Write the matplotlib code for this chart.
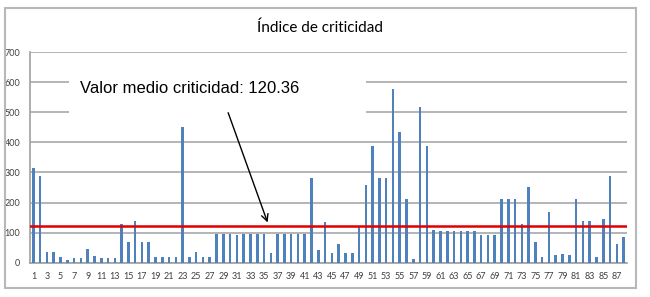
import matplotlib
matplotlib.use("Agg")
import matplotlib.pyplot as plt
from matplotlib.patches import Rectangle
from matplotlib import font_manager

categories = list(range(1, 89))
values = [313, 288, 34, 34, 19, 9, 17, 17, 44, 23,
          17, 17, 17, 130, 70, 138, 70, 70, 18, 18,
          18, 18, 450, 18, 34, 18, 18, 94, 94, 96,
          91, 94, 94, 96, 96, 31, 94, 94, 94, 96,
          96, 283, 41, 135, 31, 63, 31, 31, 117, 259,
          388, 283, 283, 577, 433, 210, 12, 517, 388, 109,
          105, 105, 105, 105, 105, 105, 93, 93, 93, 210,
          210, 210, 128, 252, 68, 18, 168, 25, 29, 24,
          210, 138, 138, 18, 145, 289, 62, 85]
mean_value = 120.36
title = "Índice de criticidad"
annotation = "Valor medio criticidad: 120.36"
yticks = [0, 100, 200, 300, 400, 500, 600, 700]
xtick_pos = list(range(1, 89, 2))

names = {f.name for f in font_manager.fontManager.ttflist}
narrow = "Liberation Sans Narrow" if "Liberation Sans Narrow" in names else "Lato"

W, H = 650, 297
fig = plt.figure(figsize=(W / 100, H / 100), dpi=100)
fig.patch.set_facecolor("white")

# chart border
fig.add_artist(Rectangle((5 / W, 1 - 288 / H), (636 - 5) / W, (288 - 8) / H,
                         transform=fig.transFigure, fill=False,
                         edgecolor="#b8b8b8", linewidth=1.5))

left, right, bottom, top = 30, 627, 262.7, 52
ax = fig.add_axes([left / W, 1 - bottom / H, (right - left) / W, (bottom - top) / H])

ax.bar(categories, values, width=0.38, color="#4F81BD", zorder=3)
ax.set_xlim(0.5, 88.5)
ax.set_ylim(0, 700)
ax.set_yticks(yticks)
ax.set_xticks(xtick_pos)
ax.set_xticklabels([str(v) for v in xtick_pos])
ax.yaxis.grid(True, color="#b4b4b4", linewidth=1.4, zorder=0)
ax.set_axisbelow(True)
for s in ["top", "right"]:
    ax.spines[s].set_visible(False)
ax.spines["left"].set_color("#a0a0a0")
ax.spines["bottom"].set_color("#a0a0a0")
ax.spines["left"].set_linewidth(1.2)
ax.spines["bottom"].set_linewidth(1.2)
ax.tick_params(axis="both", length=0, labelsize=6.5, colors="#404040")
ax.tick_params(axis="x", pad=7)
ax.tick_params(axis="y", pad=7)
for lab in ax.get_xticklabels() + ax.get_yticklabels():
    lab.set_fontfamily(narrow)

ax.axhline(mean_value, color="#e00000", linewidth=1.8, zorder=4)

# white text box
ax.add_patch(Rectangle((0.065, 0.654), 0.498, 0.31, transform=ax.transAxes,
                       facecolor="white", edgecolor="none", zorder=2))
ax.text(0.084, 0.829, annotation, transform=ax.transAxes, ha="left", va="center",
        fontsize=12, family="Liberation Sans", color="black", zorder=5)
ax.annotate("", xy=(35.66, 125), xytext=(29.57, 507),
            arrowprops=dict(arrowstyle="->", color="black", lw=1.0,
                            mutation_scale=12), zorder=5)

fig.text(320 / W, 1 - 28 / H, title, ha="center", va="center",
         fontsize=11, family=narrow, color="black")

fig.savefig("out.png", dpi=100, facecolor="white")
